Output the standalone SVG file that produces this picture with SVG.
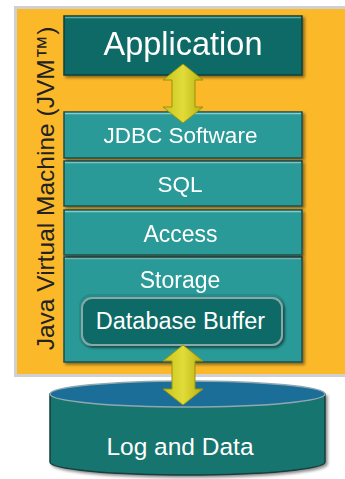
<svg xmlns="http://www.w3.org/2000/svg" width="345" height="479" viewBox="0 0 345 479">
<defs>
<style>
.t{font-family:"Liberation Sans",Arial,sans-serif;fill:#fff;text-anchor:middle}
.layer{fill:#2b9a98;stroke:#1c4f52;stroke-width:1.5}
.hl{fill:none;stroke:#7fd0d0;stroke-width:1.5}
</style>
<linearGradient id="arr" x1="0" x2="1" y1="0" y2="0">
<stop offset="0" stop-color="#c9c31c"/><stop offset="0.5" stop-color="#e2dc3a"/><stop offset="1" stop-color="#b8b010"/>
</linearGradient>
<filter id="sh" x="-10%" y="-10%" width="130%" height="130%"><feDropShadow dx="2" dy="2" stdDeviation="1.5" flood-color="#000" flood-opacity="0.45"/></filter>
</defs>
<rect width="345" height="479" fill="#fff"/>
<g id="jvm">
<rect x="14" y="6" width="340" height="371" fill="#d0d0d0"/>
<rect x="17" y="9" width="336" height="365" fill="#fbb829"/>
<text x="0" y="0" transform="translate(54,188.5) rotate(-90)" font-family="'Liberation Sans',Arial,sans-serif" font-size="24.5" fill="#222" text-anchor="middle">Java Virtual Machine (JVM™)</text>
</g>
<g id="application" filter="url(#sh)">
<rect x="64" y="16" width="238" height="59" fill="#0f6b66" stroke="#0a3f3e" stroke-width="1.5"/>
<line x1="65" y1="17.5" x2="301" y2="17.5" stroke="#5fa8a8" stroke-width="1.5"/>
<text class="t" x="183" y="55" font-size="32.5">Application</text>
</g>
<g id="storage" filter="url(#sh)">
<rect class="layer" x="64" y="257" width="238" height="105"/>
<line class="hl" x1="65" y1="258.5" x2="301" y2="258.5"/>
<text class="t" x="180" y="288" font-size="23">Storage</text>
</g>
<g id="access" filter="url(#sh)">
<rect class="layer" x="64" y="210" width="238" height="45"/>
<line class="hl" x1="65" y1="211.5" x2="301" y2="211.5"/>
<text class="t" x="180.5" y="242" font-size="23">Access</text>
</g>
<g id="sql" filter="url(#sh)">
<rect class="layer" x="64" y="161" width="238" height="45"/>
<line class="hl" x1="65" y1="162.5" x2="301" y2="162.5"/>
<text class="t" x="180" y="192" font-size="22.5">SQL</text>
</g>
<g id="jdbc" filter="url(#sh)">
<rect class="layer" x="64" y="112" width="238" height="46"/>
<line class="hl" x1="65" y1="113.5" x2="301" y2="113.5"/>
<text class="t" x="180.5" y="143" font-size="22.5">JDBC Software</text>
</g>
<g id="buffer">
<rect x="79" y="294" width="206" height="54" rx="12" fill="#238886" opacity="0.8"/>
<rect x="82" y="298" width="200" height="47" rx="10" fill="#0f6b66" stroke="#8aa8a8" stroke-width="2" filter="url(#sh)"/>
<text class="t" x="180.5" y="329" font-size="23.5">Database Buffer</text>
</g>
<g id="logdata">
<path d="M50 394 L50 462 A137.5 13 0 0 0 325 462 L325 394 Z" fill="#17746e" stroke="#1b3c3e" stroke-width="1.5" filter="url(#sh)"/>
<ellipse cx="187.5" cy="394" rx="137.5" ry="13" fill="#1a6e98" stroke="#8fa8b0" stroke-width="1.5"/>
<text class="t" x="180" y="455" font-size="24.5">Log and Data</text>
</g>
<g id="connectors" fill="url(#arr)" stroke="#9a9410" stroke-width="1">
<path d="M183 64 L203 80 L195 80 L195 107 L203 107 L183 123 L163 107 L172 107 L172 80 L163 80 Z"/>
<path d="M183 345 L203 361 L195 361 L195 389 L203 389 L183 405 L163 389 L172 389 L172 361 L163 361 Z"/>
</g>
</svg>
